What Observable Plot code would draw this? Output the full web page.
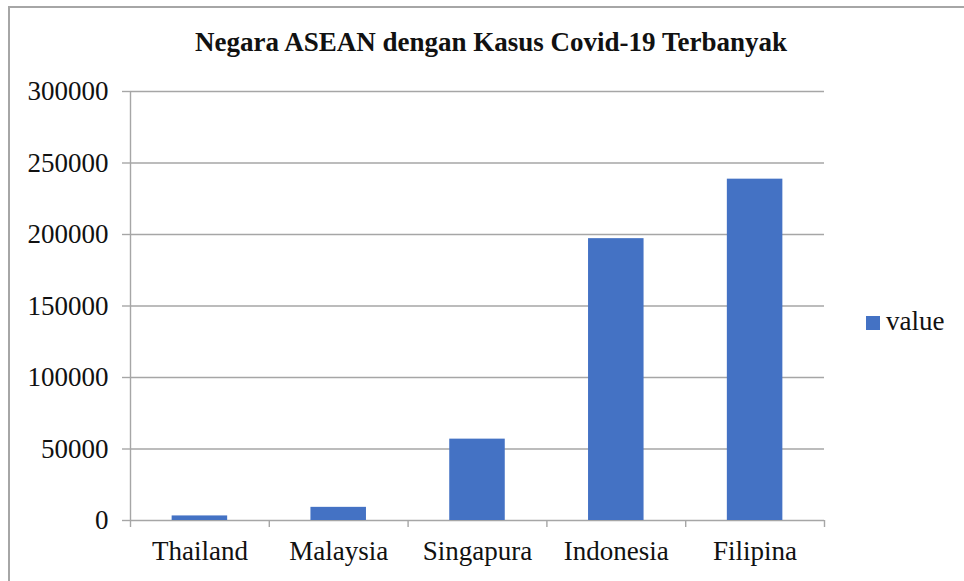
<!DOCTYPE html>
<html>
<head>
<meta charset="utf-8">
<script src="https://cdn.jsdelivr.net/npm/d3@7"></script>
<script src="https://cdn.jsdelivr.net/npm/@observablehq/plot@0.6"></script>
<style>
  html, body { margin: 0; padding: 0; background: #fff; }
  #wrap { position: relative; width: 964px; height: 581px; overflow: hidden; background: #fff; font-family: 'Liberation Serif', serif; color: #111; }
  #border { position: absolute; left: 8px; top: 6px; width: 1200px; height: 1200px; border: 2px solid #a6a6a6; box-sizing: border-box; pointer-events: none; }
  #title { position: absolute; left: 0; top: 29px; width: 982px; text-align: center; font-family: 'Liberation Serif', serif; font-weight: bold; font-size: 27px; line-height: 27px; white-space: nowrap; }
  #legend { position: absolute; left: 866px; top: 308px; font-family: 'Liberation Serif', serif; font-size: 27px; line-height: 27px; white-space: nowrap; display: flex; align-items: center; }
  #legend .sw { display: inline-block; width: 14px; height: 14px; background: #4472C4; margin-right: 6px; margin-top: 2px; }
  #chart { position: absolute; left: 0; top: 0; }
  #chart svg text { font-family: 'Liberation Serif', serif; }
</style>
</head>
<body>
<div id="wrap">
  <div id="chart"></div>
  <div id="border"></div>
  <div id="title"></div>
  <div id="legend"></div>
</div>
<script>
const titleText = "Negara ASEAN dengan Kasus Covid-19 Terbanyak";
const seriesName = "value";
const categories = ["Thailand", "Malaysia", "Singapura", "Indonesia", "Filipina"];
const values = [3200, 9200, 56900, 197100, 238700];
const yTicks = [0, 50000, 100000, 150000, 200000, 250000, 300000];
const barColor = "#4472C4";

const data = categories.map((c, i) => ({category: c, i, value: values[i]}));
const boundaries = d3.range(categories.length + 1);
const centers = categories.map((c, i) => i + 0.5);

document.getElementById("title").textContent = titleText;
const leg = document.getElementById("legend");
const sw = document.createElement("span"); sw.className = "sw"; leg.appendChild(sw);
const lt = document.createElement("span"); lt.textContent = seriesName; leg.appendChild(lt);

const gridColor = "#a6a6a6";
const chart = Plot.plot({
  width: 964,
  height: 581,
  marginLeft: 130,
  marginRight: 140,
  marginTop: 91,
  marginBottom: 61,
  style: {fontFamily: "'Liberation Serif', serif", fontSize: "27px", color: "#111", background: "transparent", overflow: "visible"},
  x: {type: "linear", domain: [0, categories.length], axis: null},
  y: {domain: [0, 300000], axis: null},
  marks: [
    Plot.gridY(yTicks, {stroke: gridColor, strokeOpacity: 1, strokeWidth: 1.4}),
    Plot.rectY(data, {x1: d => d.i + 0.3, x2: d => d.i + 0.7, y: "value", fill: barColor}),
    Plot.ruleX([0], {stroke: gridColor, strokeWidth: 1.4}),
    Plot.axisY(yTicks, {tickSize: 8, tickPadding: 14, stroke: gridColor, strokeWidth: 1.4, fill: "#111", fontSize: 27, tickFormat: d => String(d), label: null}),
    Plot.axisX(boundaries, {tickSize: 7, stroke: gridColor, strokeWidth: 1.4, tickFormat: () => "", label: null}),
    Plot.axisX(centers, {tickSize: 0, tickPadding: 20, fill: "#111", fontSize: 27, tickFormat: d => categories[Math.floor(d)], label: null})
  ]
});
document.getElementById("chart").appendChild(chart);
</script>
</body>
</html>
